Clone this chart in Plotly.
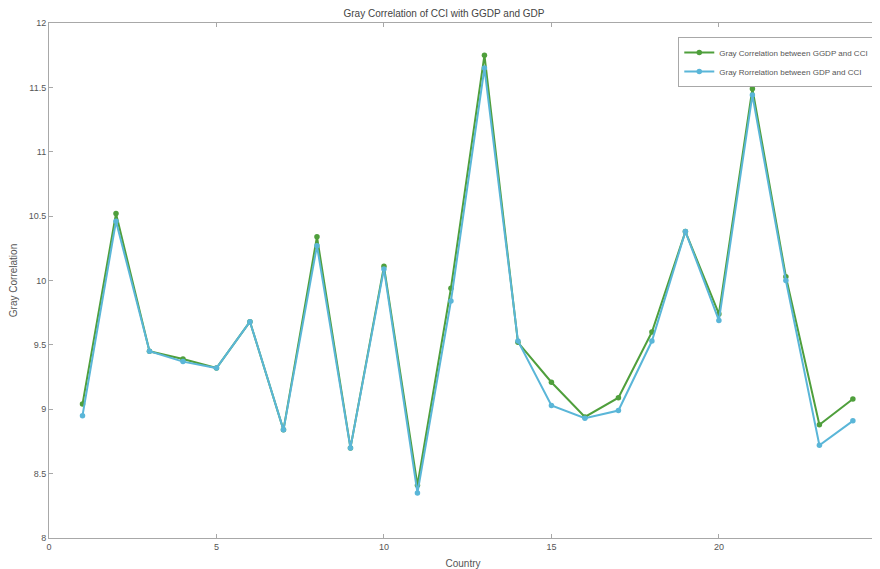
import plotly.graph_objects as go

countries = list(range(1, 25))
ggdp_cci = [9.04, 10.52, 9.45, 9.39, 9.32, 9.68, 8.84, 10.34, 8.70, 10.11, 8.41, 9.94,
            11.75, 9.52, 9.21, 8.94, 9.09, 9.60, 10.38, 9.74, 11.49, 10.03, 8.88, 9.08]
gdp_cci = [8.95, 10.46, 9.45, 9.37, 9.32, 9.68, 8.84, 10.27, 8.70, 10.09, 8.35, 9.84,
           11.65, 9.53, 9.03, 8.93, 8.99, 9.53, 10.38, 9.69, 11.44, 10.00, 8.72, 8.91]

name1 = "Gray Correlation between GGDP and CCI"
name2 = "Gray Rorrelation between GDP and CCI"

green = "#4f9f3c"
blue = "#5ab6d8"

fig = go.Figure()
fig.add_trace(go.Scatter(x=countries, y=ggdp_cci, mode="lines+markers", name=name1,
                         line=dict(color=green, width=2), marker=dict(color=green, size=5.5)))
fig.add_trace(go.Scatter(x=countries, y=gdp_cci, mode="lines+markers", name=name2,
                         line=dict(color=blue, width=2), marker=dict(color=blue, size=5.5)))

axis_common = dict(showgrid=False, zeroline=False, showline=True, linecolor="#a8a8a8",
                   linewidth=1, mirror="ticks", ticks="inside", ticklen=4, tickcolor="#a8a8a8",
                   tickfont=dict(size=9, color="#555555"), automargin=False)

# page body has an 8px default margin; size the figure so the plot area lands where the reference has it
fig.update_layout(
    width=872, height=561,
    margin=dict(l=41, r=3, t=15, b=31),
    paper_bgcolor="white", plot_bgcolor="white",
    font=dict(family="Liberation Sans, Arial, sans-serif", color="#555555"),
    title=dict(text="Gray Correlation of CCI with GGDP and GDP", x=0.5, xanchor="center",
               y=0.991, yanchor="middle", font=dict(size=10, color="#444444"), automargin=False),
    xaxis=dict(range=[0, 24.72], tickmode="array", tickvals=[0, 5, 10, 15, 20],
               title=dict(text="Country", font=dict(size=10, color="#555555"), standoff=10),
               **axis_common),
    yaxis=dict(range=[8, 12], tickmode="array",
               tickvals=[8, 8.5, 9, 9.5, 10, 10.5, 11, 11.5, 12],
               ticktext=["8", "8.5", "9", "9.5", "10", "10.5", "11", "11.5", "12"],
               title=dict(text="Gray Correlation", font=dict(size=10, color="#555555")),
               **axis_common),
    legend=dict(x=0.76, y=0.973, xanchor="left", yanchor="top", bgcolor="white",
                bordercolor="#a8a8a8", borderwidth=1, font=dict(size=8, color="#555555"),
                tracegroupgap=0, itemwidth=30),
    showlegend=True,
)

fig.write_html("out.html")
